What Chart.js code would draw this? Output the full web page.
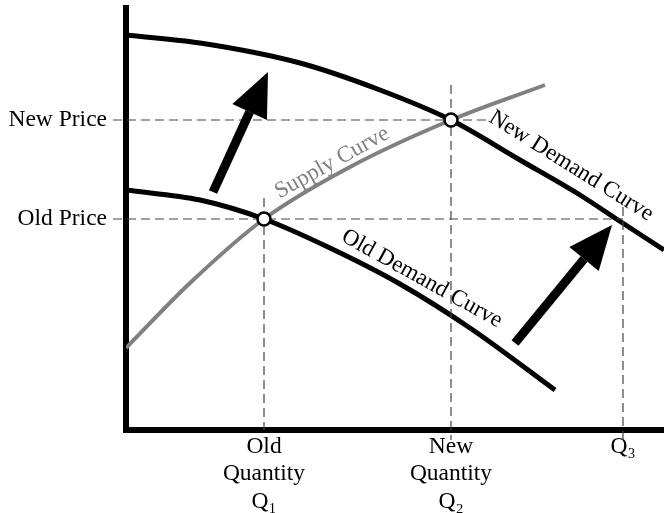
<!DOCTYPE html>
<html>
<head>
<meta charset="utf-8">
<script src="https://cdn.jsdelivr.net/npm/chart.js@4.4.1/dist/chart.umd.min.js"></script>
<style>
  html, body { margin: 0; padding: 0; background: #fff; }
  #wrap { width: 664px; height: 513px; }
</style>
</head>
<body>
<div id="wrap"><canvas id="chart"></canvas></div>
<script>
// price levels and quantities (arbitrary units)
const oldPrice = 211;
const newPrice = 310;
const q1 = 138, q2 = 325, q3 = 497;

const priceTicks = [oldPrice, newPrice];
const priceLabels = ["Old Price", "New Price"];
const qtyTicks = [q1, q2, q3];
const qtyLabels = [["Old", "Quantity", "Q\u2081"], ["New", "Quantity", "Q\u2082"], ["Q\u2083"]];

// curves
const oldDemandX = [0, 74, 138, 204, 274, 344, 429];
const oldDemandY = [240, 230, 211, 182, 146, 102, 40];
const newDemandX = [0, 74, 174, 254, 325, 394, 454, 492, 538];
const newDemandY = [395, 387, 367, 340, 310, 270, 235, 210, 180];
const supplyX = [0, 64, 138, 224, 325, 419];
const supplyY = [82, 147, 211, 263, 310, 345];

// equilibria
const eqX = [q1, q2];
const eqY = [oldPrice, newPrice];

// shift arrows: [fromX, fromY, toX, toY]
const arrows = [[87, 238, 142, 358], [389, 87, 486, 205]];

// dashed guide lines: [x0, y0, x1, y1]
const guides = [
  [-13, newPrice, 361, newPrice],
  [-13, oldPrice, q3, oldPrice],
  [q1, 232, q1, 0],
  [q2, 345, q2, -10],
  [q3, 223, q3, -10]
];

const toPts = (xs, ys) => xs.map((x, i) => ({ x: x, y: ys[i] }));

const dashStyle = { borderColor: '#444', borderWidth: 1.2, borderDash: [9, 5], pointRadius: 0, showLine: true, fill: false, clip: false };
const serif = '"Liberation Serif", "Times New Roman", serif';

// curve labels drawn along the lines
const curveLabels = [
  { text: "Supply Curve", x: 209, y: 262, angle: -29, color: '#808080' },
  { text: "New Demand Curve", x: 442, y: 259, angle: 32, color: '#000' },
  { text: "Old Demand Curve", x: 293, y: 146, angle: 29, color: '#000' }
];

const overlay = {
  id: 'overlay',
  afterDatasetsDraw(chart) {
    const ctx = chart.ctx;
    const xs = chart.scales.x, ys = chart.scales.y;
    ctx.save();
    // arrows
    arrows.forEach(a => {
      const x0 = xs.getPixelForValue(a[0]), y0 = ys.getPixelForValue(a[1]);
      const x1 = xs.getPixelForValue(a[2]), y1 = ys.getPixelForValue(a[3]);
      const ang = Math.atan2(y1 - y0, x1 - x0);
      const headLen = 44, headW = 19;
      const bx = x1 - headLen * Math.cos(ang), by = y1 - headLen * Math.sin(ang);
      ctx.strokeStyle = '#000';
      ctx.lineWidth = 9;
      ctx.beginPath();
      ctx.moveTo(x0, y0);
      ctx.lineTo(bx, by);
      ctx.stroke();
      ctx.fillStyle = '#000';
      ctx.beginPath();
      ctx.moveTo(x1, y1);
      ctx.lineTo(bx + headW * Math.sin(ang), by - headW * Math.cos(ang));
      ctx.lineTo(bx - headW * Math.sin(ang), by + headW * Math.cos(ang));
      ctx.closePath();
      ctx.fill();
    });
    // labels
    ctx.font = '23px ' + serif;
    ctx.textAlign = 'center';
    ctx.textBaseline = 'alphabetic';
    curveLabels.forEach(l => {
      ctx.save();
      ctx.translate(xs.getPixelForValue(l.x), ys.getPixelForValue(l.y));
      ctx.rotate(l.angle * Math.PI / 180);
      ctx.fillStyle = l.color;
      ctx.fillText(l.text, 0, 0);
      ctx.restore();
    });
    ctx.restore();
  }
};

function noPad(s) {
  s.paddingTop = 0; s.paddingBottom = 0; s.paddingLeft = 0; s.paddingRight = 0;
}

new Chart(document.getElementById('chart'), {
  type: 'scatter',
  data: {
    datasets: guides.map(g => Object.assign({ data: [{ x: g[0], y: g[1] }, { x: g[2], y: g[3] }] }, dashStyle)).concat([
      { label: 'Supply Curve', data: toPts(supplyX, supplyY), showLine: true, borderColor: '#808080', borderWidth: 4, pointRadius: 0, cubicInterpolationMode: 'monotone' },
      { label: 'Old Demand Curve', data: toPts(oldDemandX, oldDemandY), showLine: true, borderColor: '#000', borderWidth: 5, pointRadius: 0, cubicInterpolationMode: 'monotone' },
      { label: 'New Demand Curve', data: toPts(newDemandX, newDemandY), showLine: true, borderColor: '#000', borderWidth: 5, pointRadius: 0, cubicInterpolationMode: 'monotone' },
      { label: 'Equilibrium', order: -1, data: toPts(eqX, eqY), showLine: false, pointRadius: 6.5, pointBackgroundColor: '#fff', pointBorderColor: '#000', pointBorderWidth: 2.5 }
    ])
  },
  options: {
    responsive: true,
    maintainAspectRatio: false,
    animation: false,
    layout: { autoPadding: false, padding: { top: 8, right: 0, left: 0, bottom: 0 } },
    plugins: { legend: { display: false }, tooltip: { enabled: false } },
    scales: {
      x: {
        type: 'linear', min: 0, max: 538, z: 1,
        grid: { display: false, drawTicks: false },
        border: { display: true, color: '#000', width: 6 },
        afterFit(s) { s.height = 83; noPad(s); },
        afterBuildTicks(s) { s.ticks = qtyTicks.map(v => ({ value: v })); },
        ticks: {
          autoSkip: false, maxRotation: 0, padding: 3, color: '#000',
          font: { family: serif, size: 23.5, lineHeight: 1.17 },
          callback: v => qtyLabels[qtyTicks.indexOf(v)]
        }
      },
      y: {
        type: 'linear', min: 0, max: 422, z: 1,
        grid: { display: false, drawTicks: false },
        border: { display: true, color: '#000', width: 6 },
        afterFit(s) { s.width = 126; noPad(s); },
        afterBuildTicks(s) { s.ticks = priceTicks.map(v => ({ value: v })); },
        ticks: {
          autoSkip: false, padding: 19, color: '#000',
          font: { family: serif, size: 23.5 },
          callback: v => priceLabels[priceTicks.indexOf(v)]
        }
      }
    }
  },
  plugins: [overlay]
});
</script>
</body>
</html>
